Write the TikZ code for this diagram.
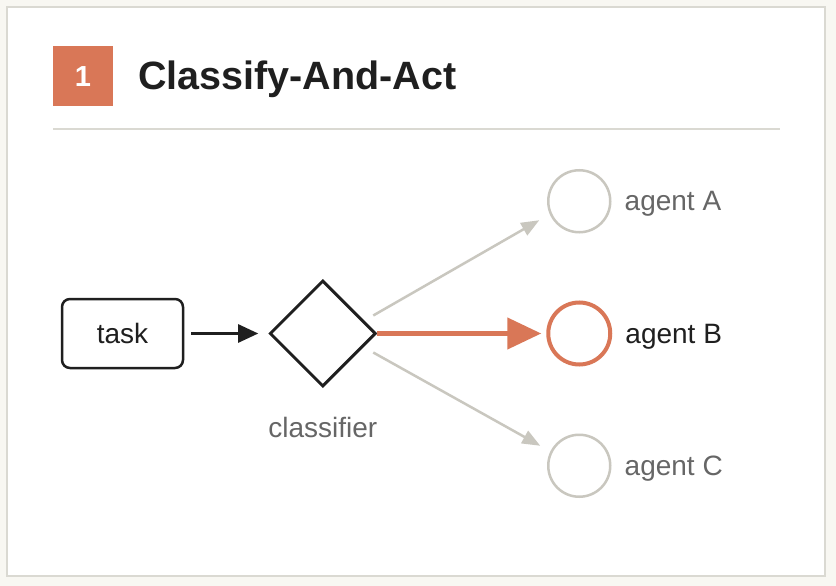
\documentclass[tikz,border=0pt]{standalone}
\usepackage{fontspec}
\setmainfont{Liberation Sans}
\usepackage{xcolor}
\usetikzlibrary{arrows.meta,positioning,shapes.geometric}
\definecolor{clay}{HTML}{D97757}
\definecolor{paper}{HTML}{F8F7F2}
\definecolor{rule}{HTML}{DAD9D2}
\definecolor{mute}{HTML}{C9C7BF}
\definecolor{ink}{HTML}{1F1F1F}
\definecolor{soft}{HTML}{666666}

\begin{document}
\begin{tikzpicture}[x=1pt, y=-1pt, node distance=13pt,
  every node/.style={font=\fontsize{28}{30}\selectfont, text=ink},
  taskbox/.style={draw=ink, line width=2.5pt, rounded corners=8pt, minimum width=121pt, minimum height=69pt, inner sep=0pt},
  decide/.style={diamond, draw=ink, line width=3pt, minimum width=106pt, minimum height=106pt, inner sep=0pt, aspect=1},
  agent/.style={circle, draw=mute, line width=2.5pt, minimum size=62pt, inner sep=0pt},
  pick/.style={agent, draw=clay, line width=4pt},
  lbl/.style={inner sep=0pt, yshift=-3pt},
  arr/.style={-{Triangle[length=20pt, width=18pt]}, line width=2.5pt, draw=ink},
  dim/.style={-{Triangle[length=18pt, width=14pt]}, line width=2.5pt, draw=mute},
  hot/.style={-{Triangle[length=34pt, width=31pt]}, line width=4.5pt, draw=clay}]
% card and margins
\fill[paper] (0,0) rectangle (836,586);
\useasboundingbox (0,0) rectangle (836,586);
\draw[rule, line width=2pt, fill=white] (7,7) rectangle (825,576);
% heading
\node[fill=clay, minimum size=60pt, inner sep=0pt, font=\fontsize{29}{30}\bfseries, text=white] (num) at (83,76.5) {1};
\node[anchor=base west, inner sep=0pt, font=\fontsize{39.5}{41}\bfseries] (title) at (138,89) {Classify-And-Act};
\draw[rule, line width=2pt] (53,129) -- (780,129);
% flow
\node[taskbox] (task) at (122.5,333.5) {task};
\node[decide, right=84pt of task] (cls) {};
\node[below=26pt of cls, text=soft] (clsname) {classifier};
\node[pick, right=169pt of cls] (agB) {};
\node[agent, above=67pt of agB] (agA) {};
\node[agent, below=67pt of agB] (agC) {};
\node[lbl, right=of agA, text=soft] (nameA) {agent A};
\node[lbl, right=of agB] (nameB) {agent B};
\node[lbl, right=of agC, text=soft] (nameC) {agent C};
\draw[arr, shorten <=7pt, shorten >=10pt] (task) -- (cls);
\draw[hot, shorten >=5pt] (cls) -- (agB);
\draw[dim] ([shift={(-4pt,18pt)}]cls.east) -- ([shift={(-40pt,-19pt)}]agA.center);
\draw[dim] ([shift={(-4pt,-19pt)}]cls.east) -- ([shift={(-39pt,20pt)}]agC.center);
\end{tikzpicture}
\end{document}
